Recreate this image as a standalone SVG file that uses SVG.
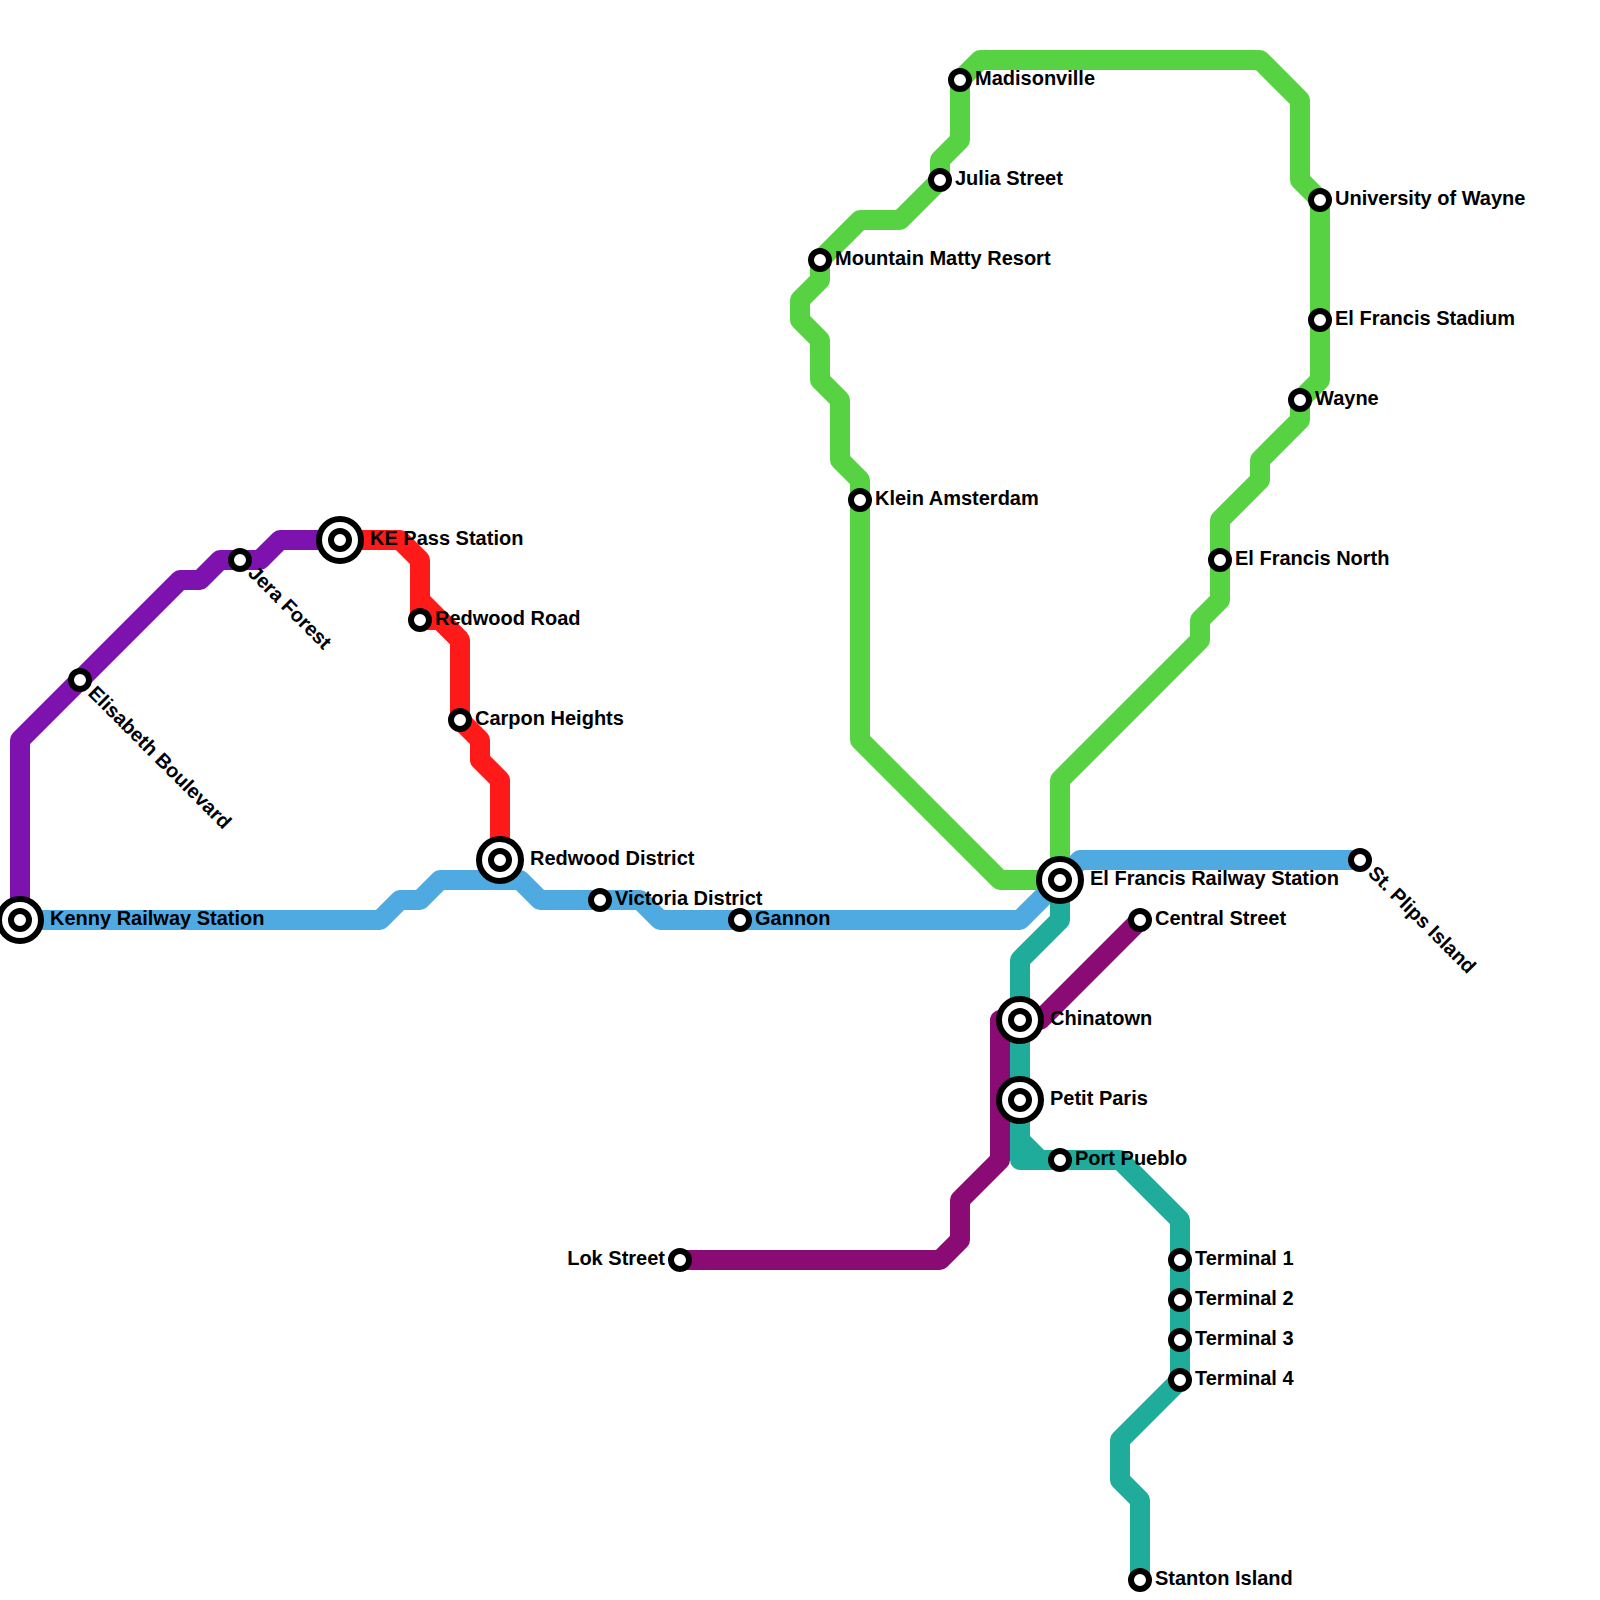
<svg xmlns="http://www.w3.org/2000/svg" width="1600" height="1600" viewBox="0 0 1600 1600">
<style>
.l{fill:none;stroke-width:20;stroke-linejoin:round;stroke-linecap:butt}
.o{fill:#fff;stroke:#000;stroke-width:6}
text{font-family:"Liberation Sans",Arial,sans-serif;font-weight:700;font-size:20px;fill:#000}
</style>
<defs>
<g id="s"><circle class="o" r="9"/></g>
<g id="x"><circle class="o" r="21"/><circle class="o" r="9"/></g>
</defs>
<rect width="1600" height="1600" fill="#fff"/>
<g id="connectors">
<path class="l" stroke="#50aae2" d="M20 920H380L400 900H420L440 880H520L540 900H640L660 920H1020L1060 880L1080 860H1360"/>
<path class="l" stroke="#57d242" d="M1060 880H1000L860 740V480L840 460V400L820 380V340L800 320V300L820 280V260L860 220H900L940 180V160L960 140V80L980 60H1260L1300 100V180L1320 200V380L1300 400V420L1260 460V480L1220 520V600L1200 620V640L1060 780V880"/>
<path class="l" stroke="#7e12ae" d="M20 920V740L180 580H200L220 560H260L280 540H340"/>
<path class="l" stroke="#ff1a1a" d="M340 540H400L420 560V620H440L460 640V720L480 740V760L500 780V860"/>
<path class="l" stroke="#ff1a1a" d="M420 600L460 640"/>
<path class="l" stroke="#8a0b73" d="M1140 920L1040 1020H1000V1160L960 1200V1240L940 1260H680"/>
<path class="l" stroke="#1fac9b" d="M1060 880V920L1020 960V1160H1120L1180 1220V1380L1120 1440V1480L1140 1500V1580"/>
<path class="l" stroke="#1fac9b" d="M1020 1140L1040 1160"/>
</g>
<g id="kenny"><use href="#x" x="20" y="920"/><text x="50" y="925">Kenny Railway Station</text></g>
<g id="elisabeth"><use href="#s" x="80" y="680"/><text transform="translate(80 680) rotate(45)" x="15" y="5">Elisabeth Boulevard</text></g>
<g id="jera"><use href="#s" x="240" y="560"/><text transform="translate(240 560) rotate(45)" x="15" y="5">Jera Forest</text></g>
<g id="kepass"><use href="#x" x="340" y="540"/><text x="370" y="545">KE Pass Station</text></g>
<g id="redwoodroad"><use href="#s" x="420" y="620"/><text x="435" y="625">Redwood Road</text></g>
<g id="carpon"><use href="#s" x="460" y="720"/><text x="475" y="725">Carpon Heights</text></g>
<g id="redwooddistrict"><use href="#x" x="500" y="860"/><text x="530" y="865">Redwood District</text></g>
<g id="victoria"><use href="#s" x="600" y="900"/><text x="615" y="905">Victoria District</text></g>
<g id="gannon"><use href="#s" x="740" y="920"/><text x="755" y="925">Gannon</text></g>
<g id="elfrancisrailway"><use href="#x" x="1060" y="880"/><text x="1090" y="885">El Francis Railway Station</text></g>
<g id="stplips"><use href="#s" x="1360" y="860"/><text transform="translate(1360 860) rotate(45)" x="15" y="5">St. Plips Island</text></g>
<g id="central"><use href="#s" x="1140" y="920"/><text x="1155" y="925">Central Street</text></g>
<g id="chinatown"><use href="#x" x="1020" y="1020"/><text x="1050" y="1025">Chinatown</text></g>
<g id="petitparis"><use href="#x" x="1020" y="1100"/><text x="1050" y="1105">Petit Paris</text></g>
<g id="portpueblo"><use href="#s" x="1060" y="1160"/><text x="1075" y="1165">Port Pueblo</text></g>
<g id="lok"><use href="#s" x="680" y="1260"/><text x="665" y="1265" text-anchor="end">Lok Street</text></g>
<g id="t1"><use href="#s" x="1180" y="1260"/><text x="1195" y="1265">Terminal 1</text></g>
<g id="t2"><use href="#s" x="1180" y="1300"/><text x="1195" y="1305">Terminal 2</text></g>
<g id="t3"><use href="#s" x="1180" y="1340"/><text x="1195" y="1345">Terminal 3</text></g>
<g id="t4"><use href="#s" x="1180" y="1380"/><text x="1195" y="1385">Terminal 4</text></g>
<g id="stanton"><use href="#s" x="1140" y="1580"/><text x="1155" y="1585">Stanton Island</text></g>
<g id="madisonville"><use href="#s" x="960" y="80"/><text x="975" y="85">Madisonville</text></g>
<g id="julia"><use href="#s" x="940" y="180"/><text x="955" y="185">Julia Street</text></g>
<g id="mountain"><use href="#s" x="820" y="260"/><text x="835" y="265">Mountain Matty Resort</text></g>
<g id="klein"><use href="#s" x="860" y="500"/><text x="875" y="505">Klein Amsterdam</text></g>
<g id="efnorth"><use href="#s" x="1220" y="560"/><text x="1235" y="565">El Francis North</text></g>
<g id="wayne"><use href="#s" x="1300" y="400"/><text x="1315" y="405">Wayne</text></g>
<g id="efstadium"><use href="#s" x="1320" y="320"/><text x="1335" y="325">El Francis Stadium</text></g>
<g id="university"><use href="#s" x="1320" y="200"/><text x="1335" y="205">University of Wayne</text></g>
</svg>
